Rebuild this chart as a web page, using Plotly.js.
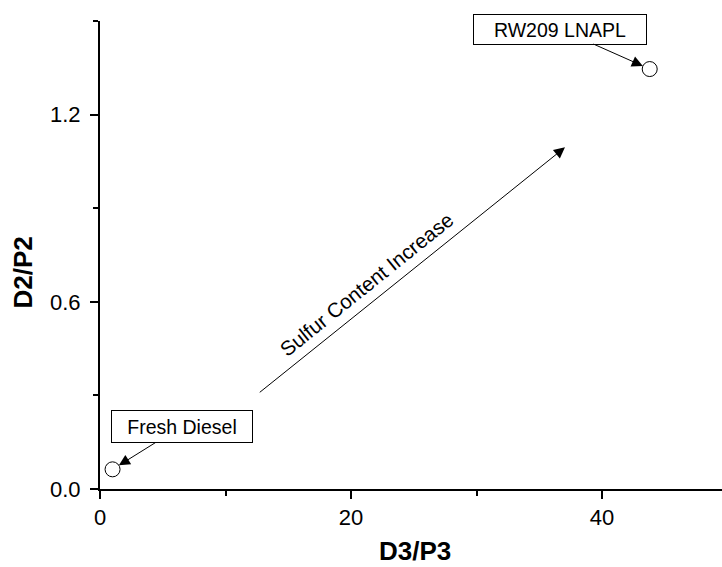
<!DOCTYPE html>
<html>
<head>
<meta charset="utf-8">
<script src="https://cdn.plot.ly/plotly-3.0.1.min.js"></script>
<style>html,body{margin:0;padding:0;background:#fff;}#chart{width:722px;height:567px;}</style>
</head>
<body>
<div id="chart"></div>
<script>
// Data
const sampleNames = ['Fresh Diesel', 'RW209 LNAPL'];
const d3p3 = [1.0, 43.8];
const d2p2 = [0.063, 1.346];
const xTickVals = [0, 20, 40];
const yTickVals = [0.0, 0.6, 1.2];
const trendLabel = 'Sulfur Content Increase';

const FONT = 'Arial, "Liberation Sans", Helvetica, sans-serif';

const trace = {
  x: d3p3, y: d2p2, mode: 'markers', type: 'scatter',
  marker: {symbol: 'circle', size: 15, color: '#ffffff', line: {color: '#000', width: 1}},
  hoverinfo: 'x+y', showlegend: false, cliponaxis: false
};

// label box offsets (pixels from the point)
const labelOffsets = [[69, -43], [-90, -40]];
const labelSizes = [[140, 31], [172, 29]];

const annotations = sampleNames.map((name, i) => ({
  x: d3p3[i], y: d2p2[i], xref: 'x', yref: 'y',
  text: name, showarrow: true, arrowhead: 2, arrowsize: 2.2, arrowwidth: 1, arrowcolor: '#000',
  standoff: 7.5, ax: labelOffsets[i][0], ay: labelOffsets[i][1],
  bordercolor: '#000', borderwidth: 1, borderpad: 0, bgcolor: '#fff',
  width: labelSizes[i][0], height: labelSizes[i][1],
  font: {family: FONT, size: 19.5, color: '#000'}
}));

// trend arrow
annotations.push({
  x: 37.05, y: 1.095, ax: 12.61, ay: 0.306, xref: 'x', yref: 'y', axref: 'x', ayref: 'y',
  text: '', showarrow: true, arrowhead: 2, arrowsize: 2.2, arrowwidth: 1, arrowcolor: '#000'
});
annotations.push({
  x: 21.2, y: 0.655, xref: 'x', yref: 'y', text: trendLabel, showarrow: false,
  textangle: -38.8, font: {family: FONT, size: 20.5, color: '#000'}
});
// axis titles
annotations.push({
  xref: 'paper', yref: 'paper', x: (415 - 100) / 622, y: -(551 - 489) / 468,
  xanchor: 'center', yanchor: 'middle',
  text: '<b>D3/P3</b>', showarrow: false,
  font: {family: FONT, size: 26, color: '#000'}
});
annotations.push({
  xref: 'paper', yref: 'paper', x: -(100 - 22) / 622, y: (489 - 272.5) / 468,
  xanchor: 'center', yanchor: 'middle',
  text: '<b>D2/P2</b>', showarrow: false, textangle: -90,
  font: {family: FONT, size: 26, color: '#000'}
});

const layout = {
  width: 722, height: 567,
  margin: {l: 100, r: 0, t: 21, b: 78, pad: 0},
  paper_bgcolor: '#fff', plot_bgcolor: '#fff',
  font: {family: FONT, color: '#000'},
  xaxis: {
    range: [0, 49.56], showgrid: false, zeroline: false,
    showline: true, linecolor: '#000', linewidth: 2,
    ticks: 'outside', ticklen: 8, tickwidth: 2, tickcolor: '#000',
    tickvals: xTickVals, ticktext: xTickVals.map(String),
    minor: {tickvals: [10, 30], ticks: 'outside', ticklen: 5, tickwidth: 2, tickcolor: '#000'},
    tickfont: {family: FONT, size: 22, color: '#000'}
  },
  yaxis: {
    range: [0, 1.5], showgrid: false, zeroline: false,
    showline: true, linecolor: '#000', linewidth: 2,
    ticks: 'outside', ticklen: 8, tickwidth: 2, tickcolor: '#000',
    ticklabelstandoff: 5,
    tickvals: yTickVals, ticktext: yTickVals.map(v => v.toFixed(1)),
    minor: {tickvals: [0.3, 0.9, 1.5], ticks: 'outside', ticklen: 5, tickwidth: 2, tickcolor: '#000'},
    tickfont: {family: FONT, size: 22, color: '#000'}
  },
  annotations: annotations
};

Plotly.newPlot('chart', [trace], layout, {displayModeBar: false, staticPlot: true});
</script>
</body>
</html>
